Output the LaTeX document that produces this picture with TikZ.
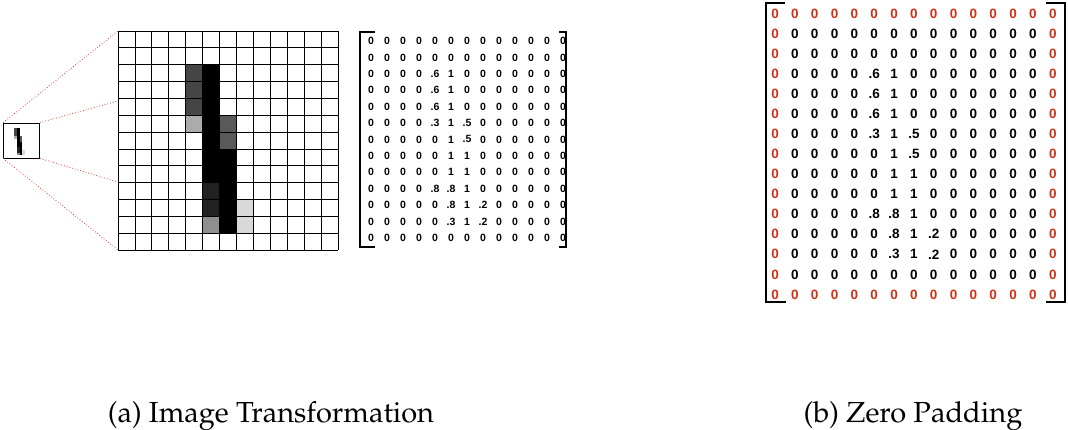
\documentclass[tikz,border=0pt]{standalone}
\usepackage[T1]{fontenc}
\usepackage{fontspec}
\newfontfamily\numfont{Liberation Sans}
\definecolor{padred}{RGB}{208,48,22}
\definecolor{zoomred}{RGB}{222,70,50}
\newcommand\digitpix{%
  \fill[black!73] (4,2) rectangle (5,5);
  \fill[black] (5,2) rectangle (6,7);
  \fill[black!33] (4,5) rectangle (5,6);
  \fill[black!65] (6,5) rectangle (7,7);
  \fill[black] (5,7) rectangle (7,9);
  \fill[black!87] (5,9) rectangle (6,11);
  \fill[black] (6,9) rectangle (7,12);
  \fill[black!44] (5,11) rectangle (6,12);
  \fill[black!15] (7,10) rectangle (8,12);
}
\def\matA{{0,0,0,0,0,0,0,0,0,0,0,0,0},
{0,0,0,0,0,0,0,0,0,0,0,0,0},
{0,0,0,0,.6,1,0,0,0,0,0,0,0},
{0,0,0,0,.6,1,0,0,0,0,0,0,0},
{0,0,0,0,.6,1,0,0,0,0,0,0,0},
{0,0,0,0,.3,1,.5,0,0,0,0,0,0},
{0,0,0,0,0,1,.5,0,0,0,0,0,0},
{0,0,0,0,0,1,1,0,0,0,0,0,0},
{0,0,0,0,0,1,1,0,0,0,0,0,0},
{0,0,0,0,.8,.8,1,0,0,0,0,0,0},
{0,0,0,0,0,.8,1,.2,0,0,0,0,0},
{0,0,0,0,0,.3,1,.2,0,0,0,0,0},
{0,0,0,0,0,0,0,0,0,0,0,0,0}}
\begin{document}
\begin{tikzpicture}[x=1pt,y=-1pt,
  ma/.style={font={\numfont\bfseries\fontsize{10.5}{12}\selectfont},inner sep=0pt},
  mb/.style={font={\numfont\bfseries\fontsize{13.5}{15}\selectfont},inner sep=0pt},
  mbred/.style={mb,text=padred},
  gridline/.style={line width=0.8pt,black},
  brk/.style={line width=1.3pt,black},
  brkb/.style={line width=1.6pt,black},
  zoomline/.style={zoomred,dotted,line width=0.8pt},
  captext/.style={font={\fontencoding{T1}\fontfamily{ppl}\fontsize{29}{33}\selectfont},inner sep=0pt,anchor=base}]
\useasboundingbox (0,0) rectangle (1068,430);
% big grid image
\begin{scope}[shift={(118,31)},x=16.92pt,y=-16.85pt]
  \digitpix
  \foreach \i in {0,...,13} {
    \draw[gridline] (\i,0) -- (\i,13);
    \draw[gridline] (0,\i) -- (13,\i);
  }
\end{scope}
\coordinate (gTL) at (118,31);
\coordinate (gA) at (118,101);
\coordinate (gB) at (118,182);
\coordinate (gBL) at (118,250);
% thumbnail
\begin{scope}[shift={(3.5,123)},x=2.7pt,y=-2.7pt]
  \digitpix
\end{scope}
\node[draw,line width=0.8pt,minimum width=36pt,minimum height=35pt,inner sep=0pt] (thumb) at (21.5,140.5) {};
\draw[zoomline] (thumb.north west) -- (gTL);
\draw[zoomline] (thumb.north east) -- (gA);
\draw[zoomline] (thumb.south east) -- (gB);
\draw[zoomline] (thumb.south west) -- (gBL);
% matrix (a)
\foreach \row [count=\r] in \matA {
  \foreach \v [count=\c] in \row {
    \node[ma] (a\r-\c) at ({371+16*(\c-1)},{41+16.4*(\r-1)}) {\v};
  }
}
\draw[brk] (375,32) -- (360,32) -- (360,247) -- (375,247);
\draw[brk] (559,32) -- (566,32) -- (566,247) -- (559,247);
% matrix (b)
\foreach \row [count=\r] in \matA {
  \foreach \v [count=\c] in \row {
    \node[mb] (b\r-\c) at ({775+19.84*\c},{13.5+20.07*\r}) {\v};
  }
}
\foreach \k in {0,...,14} {
  \node[mbred] (bt\k) at ({775+19.84*\k},13.5) {0};
  \node[mbred] (bb\k) at ({775+19.84*\k},{13.5+20.07*14}) {0};
}
\foreach \k in {1,...,13} {
  \node[mbred] (bl\k) at (775,{13.5+20.07*\k}) {0};
  \node[mbred] (br\k) at ({775+19.84*14},{13.5+20.07*\k}) {0};
}
\draw[brkb] (785,3) -- (766,3) -- (766,302) -- (786,302);
\draw[brkb] (1046,3) -- (1065,3) -- (1065,302) -- (1046,302);
% captions
\node[captext] (capA) at (271,422) {(a) Image Transformation};
\node[captext] (capB) at (913,422) {(b) Zero Padding};
\end{tikzpicture}
\end{document}
